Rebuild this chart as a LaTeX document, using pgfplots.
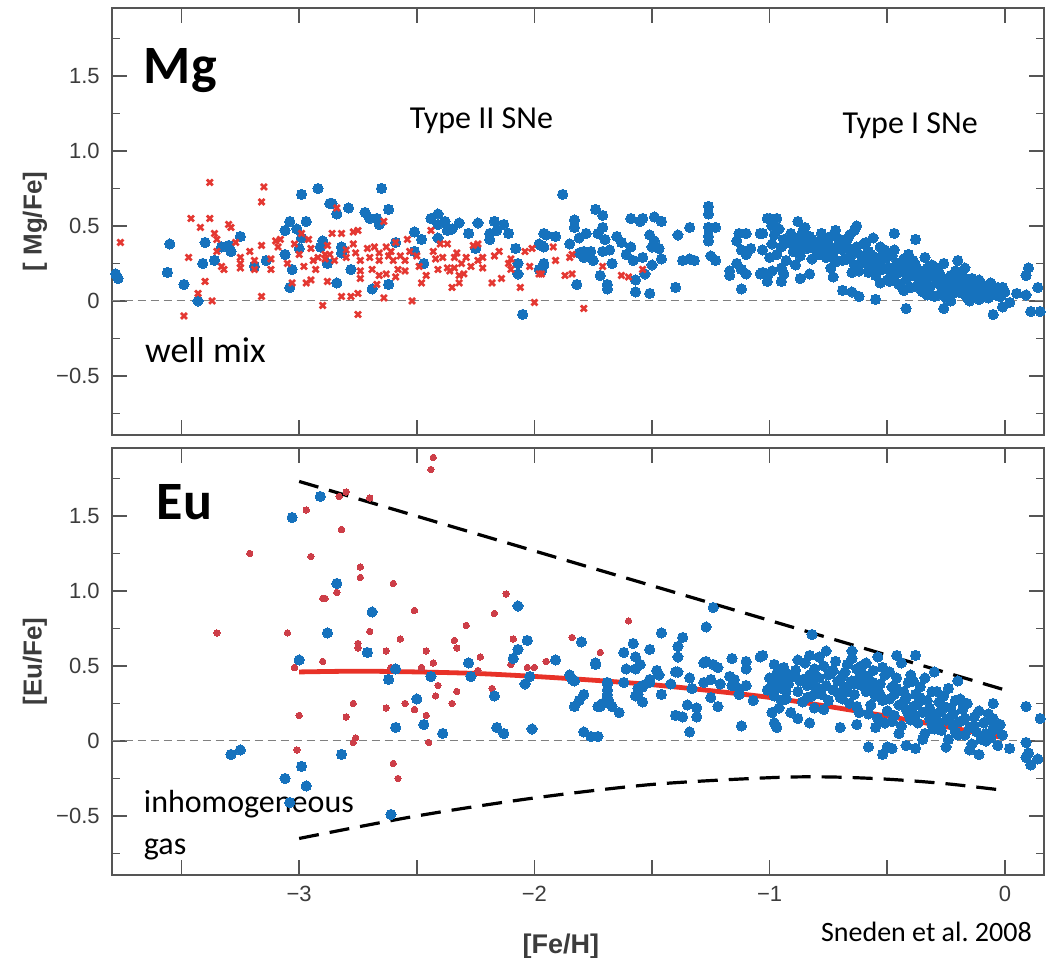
\documentclass[border=0pt]{standalone}
\usepackage{pgfplots}
\pgfplotsset{compat=1.18}
\usepackage{pgfplotstable}
\usepackage{fontspec}
\setmainfont{Liberation Sans}
\newfontfamily\calib{Carlito}
\definecolor{blueC}{RGB}{22,114,189}
\definecolor{redX}{RGB}{228,56,50}
\definecolor{redDot}{RGB}{205,62,72}
\definecolor{redLine}{RGB}{232,50,40}
\definecolor{framec}{RGB}{85,85,85}
\definecolor{tickc}{RGB}{60,60,60}

\pgfplotstableread{
x y
-3.78 0.18
-3.77 0.15
-3.55 0.38
-3.56 0.19
-3.49 0.11
-3.43 0.00
-3.41 0.25
-3.40 0.39
-3.36 0.27
-3.33 0.36
-3.30 0.37
-3.29 0.33
-3.25 0.43
-3.19 0.23
-3.14 0.27
-3.06 0.47
-3.04 0.53
-3.01 0.48
-2.97 0.53
-2.99 0.71
-2.92 0.75
-2.87 0.65
-2.99 0.42
-3.00 0.35
-3.06 0.31
-3.03 0.21
-3.04 0.09
-2.90 0.40
-2.91 0.36
-2.88 0.25
-2.86 0.65
-2.84 0.58
-2.79 0.62
-2.65 0.75
-2.72 0.59
-2.70 0.55
-2.67 0.55
-2.66 0.51
-2.62 0.61
-2.82 0.36
-2.82 0.32
-2.78 0.21
-2.84 0.12
-2.69 0.08
-2.62 0.11
-2.59 0.39
-2.51 0.46
-2.48 0.41
-2.51 0.33
-2.47 0.25
-2.44 0.55
-2.41 0.58
-2.41 0.51
-2.38 0.53
-2.37 0.47
-2.35 0.48
-2.41 0.42
-2.32 0.52
-2.28 0.45
-2.24 0.52
-2.25 0.35
-2.19 0.45
-2.19 0.41
-2.17 0.53
-2.16 0.47
-2.13 0.51
-2.11 0.45
-2.08 0.35
-2.07 0.25
-2.07 0.18
-2.05 -0.09
-1.98 0.38
-1.96 0.36
-1.95 0.44
-1.98 0.21
-1.96 0.25
-1.88 0.71
-1.96 0.45
-1.91 0.43
-1.97 0.37
-1.96 0.24
-1.97 0.20
-1.85 0.38
-1.83 0.54
-1.83 0.49
-1.81 0.42
-1.78 0.45
-1.81 0.32
-1.79 0.29
-1.79 0.33
-1.76 0.33
-1.75 0.27
-1.82 0.11
-1.74 0.61
-1.71 0.57
-1.71 0.49
-1.70 0.41
-1.73 0.45
-1.71 0.33
-1.68 0.34
-1.67 0.25
-1.72 0.17
-1.69 0.11
-1.69 0.08
-1.65 0.43
-1.63 0.39
-1.59 0.55
-1.59 0.36
-1.61 0.31
-1.58 0.27
-1.57 0.14
-1.57 0.06
-1.55 0.53
-1.54 0.55
-1.54 0.29
-1.53 0.18
-1.51 0.44
-1.50 0.36
-1.50 0.24
-1.51 0.05
-1.49 0.56
-1.46 0.53
-1.49 0.40
-1.47 0.35
-1.46 0.28
-1.39 0.44
-1.37 0.27
-1.34 0.49
-1.34 0.28
-1.32 0.27
-1.40 0.09
-1.26 0.63
-1.26 0.58
-1.26 0.49
-1.23 0.49
-1.26 0.43
-1.26 0.40
-1.25 0.30
-1.23 0.27
-1.14 0.40
-1.13 0.45
-1.10 0.45
-1.12 0.34
-1.10 0.31
-1.14 0.25
-1.12 0.21
-1.10 0.18
-1.17 0.20
-1.17 0.17
-1.12 0.08
-1.08 0.35
-1.04 0.45
-1.03 0.34
-1.04 0.18
-1.01 0.16
-1.00 0.29
-1.01 0.55
-1.00 0.55
-0.97 0.55
-0.88 0.53
-1.03 0.45
-1.03 0.19
-1.01 0.13
-0.99 0.20
-0.95 0.13
-0.94 0.18
-0.87 0.15
-0.83 0.18
-0.73 0.16
-0.69 0.07
-0.65 0.06
-0.62 0.03
-0.55 0.01
-0.63 0.50
-0.47 0.45
-0.38 0.41
-0.42 -0.05
-0.26 -0.05
-0.20 0.27
-0.17 0.22
-0.05 -0.09
-0.01 -0.04
0.10 0.22
0.09 0.17
0.14 0.09
0.11 -0.07
0.15 -0.07
0.05 0.05
0.09 0.04
0.02 -0.01
-0.06 0.12
-0.01 0.09
-0.11 0.14
-0.99 0.38
-0.98 0.44
-0.97 0.31
-0.96 0.48
-0.95 0.36
-0.94 0.41
-0.93 0.27
-0.92 0.39
-0.91 0.45
-0.90 0.33
-0.99 0.50
-0.95 0.22
-0.89 0.42
-0.88 0.37
-0.87 0.30
-0.86 0.46
-0.85 0.40
-0.84 0.35
-0.83 0.43
-0.82 0.28
-0.81 0.38
-0.80 0.33
-0.89 0.24
-0.85 0.49
-0.82 0.41
-0.87 0.36
-0.79 0.40
-0.78 0.45
-0.77 0.35
-0.76 0.29
-0.75 0.38
-0.74 0.43
-0.73 0.32
-0.72 0.26
-0.71 0.37
-0.70 0.41
-0.79 0.31
-0.76 0.39
-0.74 0.22
-0.72 0.47
-0.78 0.36
-0.69 0.34
-0.68 0.39
-0.67 0.28
-0.66 0.44
-0.65 0.31
-0.64 0.24
-0.63 0.36
-0.62 0.20
-0.61 0.30
-0.60 0.38
-0.69 0.27
-0.67 0.41
-0.65 0.19
-0.63 0.33
-0.61 0.25
-0.66 0.35
-0.64 0.47
-0.59 0.27
-0.58 0.33
-0.57 0.22
-0.56 0.30
-0.55 0.17
-0.54 0.25
-0.53 0.36
-0.52 0.21
-0.51 0.28
-0.50 0.14
-0.59 0.39
-0.57 0.31
-0.55 0.24
-0.53 0.12
-0.52 0.30
-0.58 0.19
-0.56 0.42
-0.51 0.34
-0.49 0.22
-0.48 0.30
-0.47 0.16
-0.46 0.25
-0.45 0.11
-0.44 0.20
-0.43 0.28
-0.42 0.14
-0.41 0.23
-0.40 0.09
-0.49 0.13
-0.47 0.34
-0.45 0.19
-0.43 0.07
-0.41 0.31
-0.48 0.18
-0.44 0.26
-0.42 0.21
-0.39 0.17
-0.38 0.24
-0.37 0.11
-0.36 0.20
-0.35 0.06
-0.34 0.14
-0.33 0.22
-0.32 0.09
-0.31 0.16
-0.30 0.03
-0.39 0.27
-0.37 0.19
-0.35 0.13
-0.33 0.04
-0.31 0.24
-0.36 0.08
-0.34 0.29
-0.32 0.18
-0.29 0.12
-0.28 0.19
-0.27 0.06
-0.26 0.15
-0.25 0.02
-0.24 0.10
-0.23 0.17
-0.22 0.05
-0.21 0.13
-0.20 0.08
-0.29 0.22
-0.27 0.14
-0.25 0.09
-0.23 0.00
-0.21 0.20
-0.28 0.04
-0.26 0.25
-0.24 0.15
-0.19 0.10
-0.18 0.05
-0.17 0.13
-0.16 0.02
-0.15 0.08
-0.14 0.15
-0.13 0.04
-0.12 0.10
-0.11 0.01
-0.10 0.07
-0.18 0.17
-0.15 0.00
-0.13 0.11
-0.09 0.05
-0.08 0.10
-0.07 0.02
-0.06 0.07
-0.04 0.04
-0.03 0.09
-0.02 0.03
0.00 0.06
}\mgblue

\pgfplotstableread{
x y
-3.76 0.39
-3.38 0.79
-3.46 0.55
-3.42 0.49
-3.38 0.55
-3.36 0.45
-3.35 0.41
-3.47 0.29
-3.40 0.13
-3.43 0.05
-3.37 0.00
-3.49 -0.10
-3.35 0.33
-3.33 0.23
-3.32 0.21
-3.30 0.51
-3.29 0.49
-3.27 0.39
-3.25 0.29
-3.25 0.25
-3.25 0.22
-3.21 0.33
-3.19 0.27
-3.19 0.21
-3.16 0.37
-3.15 0.76
-3.16 0.66
-3.16 0.03
-3.12 0.28
-3.12 0.21
-3.10 0.40
-3.09 0.36
-3.08 0.41
-3.05 0.25
-3.03 0.12
-3.02 0.38
-3.00 0.31
-2.99 0.45
-2.98 0.23
-2.96 0.41
-2.95 0.35
-2.97 0.12
-2.95 0.14
-2.94 0.27
-2.93 0.21
-2.92 0.29
-2.90 -0.03
-2.89 0.31
-2.88 0.13
-2.86 0.45
-2.82 0.45
-2.84 0.62
-2.77 0.46
-2.75 0.47
-2.88 0.37
-2.87 0.31
-2.89 0.28
-2.85 0.27
-2.80 0.34
-2.80 0.29
-2.77 0.38
-2.76 0.32
-2.74 0.27
-2.74 0.20
-2.74 0.15
-2.71 0.35
-2.70 0.29
-2.68 0.36
-2.66 0.32
-2.66 0.27
-2.66 0.17
-2.64 0.53
-2.63 0.36
-2.62 0.30
-2.61 0.33
-2.60 0.27
-2.59 0.39
-2.57 0.30
-2.55 0.27
-2.54 0.41
-2.53 0.33
-2.55 0.20
-2.78 0.03
-2.82 0.03
-2.75 0.05
-2.75 -0.09
-2.64 0.02
-2.67 0.11
-2.52 0.00
-2.50 0.30
-2.49 0.23
-2.46 0.17
-2.48 0.12
-2.44 0.47
-2.43 0.33
-2.42 0.28
-2.41 0.21
-2.40 0.38
-2.39 0.29
-2.37 0.38
-2.37 0.22
-2.36 0.20
-2.35 0.09
-2.34 0.29
-2.33 0.32
-2.34 0.22
-2.32 0.17
-2.31 0.25
-2.30 0.18
-2.32 0.12
-2.29 0.29
-2.27 0.23
-2.24 0.27
-2.26 0.37
-2.22 0.29
-2.22 0.22
-2.24 0.38
-2.18 0.12
-2.14 0.15
-2.17 0.30
-2.15 0.33
-2.11 0.25
-2.10 0.28
-2.10 0.21
-2.06 0.09
-2.04 0.33
-2.01 0.35
-2.02 0.23
-2.00 -0.01
-1.98 0.18
-2.58 0.21
-2.59 0.16
-2.63 0.18
-2.69 0.21
-1.92 0.36
-1.91 0.27
-1.97 0.18
-1.87 0.17
-1.85 0.29
-1.84 0.31
-1.84 0.18
-1.71 0.23
-1.79 -0.05
-1.63 0.17
-1.60 0.16
-1.54 0.21
}\mgred

\pgfplotstableread{
x y
-3.29 -0.09
-3.25 -0.06
-3.06 -0.25
-3.04 -0.41
-2.99 -0.17
-2.97 -0.30
-3.00 0.54
-3.03 1.49
-2.91 1.63
-2.84 1.05
-2.88 0.72
-2.82 -0.09
-2.69 0.86
-2.71 0.59
-2.59 0.48
-2.62 0.41
-2.59 0.09
-2.50 0.28
-2.47 0.11
-2.44 0.43
-2.39 0.05
-2.61 -0.49
-2.28 0.52
-2.27 0.43
-2.17 0.30
-2.16 0.09
-2.13 0.05
-2.09 0.55
-2.07 0.61
-2.07 0.90
-2.03 0.67
-2.04 0.38
-2.02 0.43
-2.01 0.08
-1.91 0.54
-1.85 0.44
-1.83 0.40
-1.84 0.41
-1.80 0.66
-1.74 0.51
-1.79 0.31
-1.83 0.23
-1.73 0.23
-1.79 0.06
-1.76 0.03
-1.73 0.03
-1.69 0.38
-1.69 0.31
-1.68 0.25
-1.71 0.25
-1.64 0.19
-1.62 0.59
-1.61 0.48
-1.58 0.65
-1.57 0.56
-1.55 0.51
-1.54 0.37
-1.57 0.30
-1.51 0.61
-1.51 0.41
-1.48 0.47
-1.46 0.72
-1.46 0.31
-1.40 0.17
-1.39 0.63
-1.39 0.46
-1.81 0.27
-1.74 0.52
-1.69 0.39
-1.69 0.34
-1.69 0.29
-1.72 0.23
-1.67 0.23
-1.62 0.39
-1.57 0.48
-1.56 0.31
-1.54 0.26
-1.56 0.35
-1.54 0.36
-1.51 0.39
-1.47 0.44
-1.24 0.89
-1.27 0.76
-1.37 0.69
-1.39 0.56
-1.40 0.46
-1.42 0.38
-1.34 0.42
-1.33 0.35
-1.35 0.24
-1.31 0.22
-1.40 0.17
-1.37 0.16
-1.31 0.16
-1.34 0.06
-1.28 0.52
-1.27 0.53
-1.24 0.51
-1.22 0.49
-1.28 0.39
-1.25 0.41
-1.25 0.29
-1.22 0.23
-1.21 0.38
-1.16 0.55
-1.17 0.43
-1.15 0.41
-1.16 0.37
-1.13 0.35
-1.13 0.31
-1.10 0.53
-1.10 0.48
-1.10 0.37
-1.12 0.10
-1.07 0.27
-1.04 0.56
-1.03 0.57
-0.98 0.51
-1.00 0.42
-1.00 0.35
-1.01 0.34
-0.96 0.41
-0.95 0.27
-0.99 0.19
-0.98 0.12
-0.97 0.09
-0.93 0.45
-0.93 0.39
-0.82 0.71
-0.83 0.57
-0.88 0.15
-0.83 0.12
-0.70 0.09
-0.63 0.11
-0.58 -0.04
-0.52 -0.09
-0.50 -0.04
-0.48 -0.05
-0.42 -0.03
-0.38 -0.05
-0.65 0.60
-0.54 0.56
-0.46 0.57
-0.38 0.57
-0.30 0.46
-0.20 0.40
-0.05 0.25
-0.05 0.15
-0.05 0.09
-0.01 0.04
0.02 -0.05
0.09 0.23
0.09 -0.01
0.10 -0.08
0.09 -0.11
0.11 -0.16
0.14 -0.12
0.15 0.15
-0.11 -0.09
-0.08 0.00
-0.99 0.40
-0.98 0.30
-0.97 0.45
-0.96 0.22
-0.95 0.35
-0.94 0.49
-0.93 0.28
-0.92 0.38
-0.91 0.19
-0.90 0.43
-0.97 0.36
-0.93 0.33
-0.89 0.47
-0.88 0.33
-0.87 0.40
-0.86 0.26
-0.85 0.52
-0.84 0.37
-0.83 0.44
-0.82 0.30
-0.81 0.48
-0.80 0.35
-0.88 0.54
-0.86 0.41
-0.84 0.29
-0.82 0.39
-0.81 0.22
-0.79 0.42
-0.78 0.31
-0.77 0.50
-0.76 0.37
-0.75 0.27
-0.74 0.45
-0.73 0.34
-0.72 0.53
-0.71 0.40
-0.70 0.29
-0.79 0.56
-0.77 0.21
-0.75 0.44
-0.73 0.47
-0.71 0.32
-0.76 0.60
-0.69 0.43
-0.68 0.36
-0.67 0.51
-0.66 0.25
-0.65 0.40
-0.64 0.31
-0.63 0.48
-0.62 0.19
-0.61 0.37
-0.60 0.44
-0.69 0.28
-0.67 0.33
-0.65 0.55
-0.63 0.23
-0.61 0.50
-0.68 0.46
-0.64 0.38
-0.62 0.42
-0.59 0.33
-0.58 0.41
-0.57 0.24
-0.56 0.47
-0.55 0.30
-0.54 0.15
-0.53 0.38
-0.52 0.27
-0.51 0.44
-0.50 0.20
-0.59 0.52
-0.57 0.36
-0.55 0.09
-0.53 0.31
-0.51 0.12
-0.58 0.18
-0.56 0.39
-0.52 0.49
-0.54 0.34
-0.49 0.28
-0.48 0.36
-0.47 0.17
-0.46 0.42
-0.45 0.24
-0.44 0.10
-0.43 0.33
-0.42 0.21
-0.41 0.39
-0.40 0.14
-0.49 0.46
-0.47 0.31
-0.45 0.05
-0.43 0.26
-0.41 0.18
-0.48 0.13
-0.46 0.35
-0.44 0.52
-0.42 0.29
-0.40 0.44
-0.39 0.23
-0.38 0.31
-0.37 0.12
-0.36 0.36
-0.35 0.19
-0.34 0.05
-0.33 0.27
-0.32 0.15
-0.31 0.33
-0.30 0.08
-0.39 0.40
-0.37 0.25
-0.35 0.01
-0.33 0.20
-0.31 0.11
-0.38 0.17
-0.36 0.29
-0.34 0.42
-0.32 0.22
-0.29 0.18
-0.28 0.26
-0.27 0.07
-0.26 0.30
-0.25 0.14
-0.24 0.01
-0.23 0.22
-0.22 0.10
-0.21 0.27
-0.20 0.04
-0.29 0.33
-0.27 0.20
-0.25 -0.04
-0.23 0.16
-0.21 0.06
-0.28 0.12
-0.26 0.23
-0.24 0.35
-0.22 0.18
-0.19 0.13
-0.18 0.21
-0.17 0.04
-0.16 0.25
-0.15 0.09
-0.14 -0.02
-0.13 0.16
-0.12 0.06
-0.11 0.20
-0.10 0.01
-0.19 0.28
-0.17 0.15
-0.15 -0.06
-0.13 0.10
-0.09 0.12
-0.08 0.05
-0.07 0.18
-0.06 0.02
-0.04 0.08
-0.03 -0.03
-0.02 0.11
}\eublue

\pgfplotstableread{
x y
-3.35 0.72
-3.21 1.25
-3.05 0.72
-3.02 0.49
-3.00 0.17
-3.01 -0.06
-2.97 1.54
-2.95 1.23
-2.90 0.95
-2.89 0.95
-2.84 0.99
-2.90 0.53
-2.83 1.63
-2.82 1.41
-2.80 1.66
-2.80 0.16
-2.43 1.89
-2.44 1.81
-2.70 1.62
-2.74 1.16
-2.74 1.09
-2.60 1.05
-2.51 0.87
-2.75 0.65
-2.75 0.62
-2.70 0.73
-2.57 0.68
-2.63 0.60
-2.46 0.60
-2.43 0.52
-2.29 0.77
-2.34 0.67
-2.33 0.62
-2.23 0.56
-2.17 0.85
-2.12 0.98
-2.09 0.68
-2.10 0.51
-2.03 0.49
-2.00 0.49
-2.77 0.25
-2.80 0.16
-2.76 0.02
-2.77 -0.01
-2.63 0.22
-2.60 -0.15
-2.58 -0.25
-2.55 0.25
-2.51 0.21
-2.46 0.17
-2.45 -0.01
-2.42 0.30
-2.41 0.37
-2.35 0.25
-2.33 0.33
-2.18 0.35
-2.48 0.49
-2.24 0.47
-2.61 0.49
-1.84 0.69
-1.72 0.59
-1.60 0.80
-1.95 0.53
}\eured

\pgfplotsset{
  myax/.style={
    scale only axis,
    width=466pt, height=213.3pt,
    xmin=-3.797, xmax=0.165,
    ymin=-0.893, ymax=1.951,
    axis line style={draw=framec, line width=0.9pt},
    every tick/.style={draw=framec, line width=0.8pt},
    tick align=inside,
    major tick length=7.5pt,
    xtick={-3.5,-3,-2.5,-2,-1.5,-1,-0.5,0},
    ytick={-0.5,0,0.5,1,1.5},
    yticklabels={−0.5,0,0.5,1.0,1.5},
    extra y ticks={-0.75,-0.25,0.25,0.75,1.25,1.75},
    extra y tick labels={},
    extra y tick style={major tick length=4pt},
    tick label style={font=\fontsize{11}{13}\selectfont, text=tickc},
    yticklabel style={xshift=-2.5pt},
    xticklabel style={yshift=-2.3pt},
    ylabel style={at={(axis description cs:-0.0823,0.5)}, anchor=center, font=\fontsize{13}{15}\selectfont\bfseries, text=tickc},
  },
  bluedot/.style={only marks, color=blueC, mark=*, mark size=2.55pt, mark options={solid, draw=blueC, fill=blueC, line width=0pt}},
}

\begin{document}
\begin{tikzpicture}
\useasboundingbox (0,0) rectangle (523pt,479pt);

% ---------- top panel: Mg ----------
\begin{axis}[myax, at={(55.85pt,474.85pt)}, anchor=north west,
  xticklabels={}, ylabel={[ Mg/Fe]}]
\addplot[gray, line width=0.5pt, dash pattern=on 4pt off 2.5pt] coordinates {(-3.797,0) (0.165,0)};
\addplot[bluedot] table {\mgblue};
\addplot[only marks, color=redX, mark=x, mark size=2.1pt, mark options={solid, draw=redX, line width=1.35pt}] table {\mgred};
\node[anchor=base west, font=\calib\bfseries\fontsize{27}{30}\selectfont] at (axis cs:-3.69,1.447) {Mg};
\node[anchor=base west, font=\calib\fontsize{16}{19}\selectfont] at (axis cs:-2.56,1.147) {Type II SNe};
\node[anchor=base west, font=\calib\fontsize{16}{19}\selectfont] at (axis cs:-0.72,1.113) {Type I SNe};
\node[anchor=base west, font=\calib\fontsize{18}{21}\selectfont] at (axis cs:-3.685,-0.413) {well mix};
\end{axis}

% ---------- bottom panel: Eu ----------
\begin{axis}[myax, at={(55.85pt,254.85pt)}, anchor=north west,
  xticklabels={,−3,,−2,,−1,,0}, ylabel={[Eu/Fe]},
  xlabel={[Fe/H]},
  xlabel style={at={(axis description cs:0.482,-0.168)}, anchor=center, font=\fontsize{13.5}{15}\selectfont\bfseries, text=tickc}]
\addplot[gray, line width=0.5pt, dash pattern=on 4pt off 2.5pt] coordinates {(-3.797,0) (0.165,0)};
\addplot[only marks, color=redDot, mark=*, mark size=1.6pt, mark options={solid, draw=redDot, fill=redDot, line width=0pt}] table {\eured};
\addplot[redLine, line width=2.4pt, smooth] coordinates {(-3,0.46) (-2.75,0.465) (-2.5,0.46) (-2.25,0.45) (-2,0.43) (-1.75,0.405) (-1.5,0.375) (-1.25,0.335) (-1,0.29) (-0.75,0.23) (-0.5,0.165) (-0.25,0.095) (0,0.02)};
\addplot[bluedot] table {\eublue};
\addplot[black, line width=1.6pt, dash pattern=on 10pt off 5.5pt] coordinates {(-3,1.73) (0,0.34)};
\addplot[black, line width=1.6pt, dash pattern=on 10pt off 5.5pt, smooth] coordinates {(-3,-0.65) (-2.5,-0.5) (-2,-0.38) (-1.5,-0.29) (-1,-0.245) (-0.75,-0.24) (-0.5,-0.255) (-0.25,-0.285) (0,-0.33)};
\node[anchor=base west, font=\calib\bfseries\fontsize{27}{30}\selectfont] at (axis cs:-3.635,1.473) {Eu};
\node[anchor=base west, font=\calib\fontsize{16}{19}\selectfont] at (axis cs:-3.69,-0.48) {inhomogeneous};
\node[anchor=base west, font=\calib\fontsize{16}{19}\selectfont] at (axis cs:-3.69,-0.76) {gas};
\end{axis}

\node[anchor=base west, font=\calib\fontsize{14}{17}\selectfont] at (407pt,8pt) {Sneden et al.\ 2008};
\end{tikzpicture}
\end{document}
